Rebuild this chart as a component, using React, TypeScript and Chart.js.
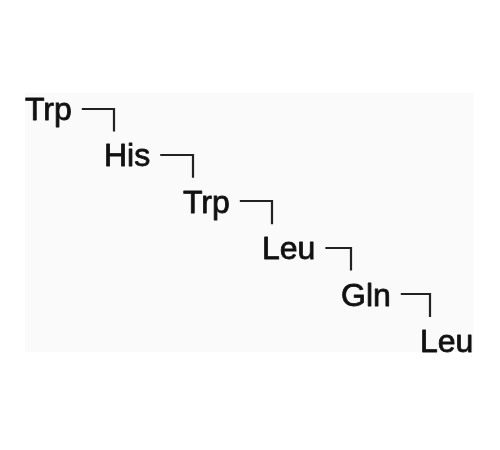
import React, { useEffect, useRef } from "react";
import { Chart, registerables } from "chart.js";

Chart.register(...registerables);

// Peptide sequence, one residue per step of the staircase
const residues: string[] = ["Trp", "His", "Trp", "Leu", "Gln", "Leu"];
const stepIndex: number[] = [0, 1, 2, 3, 4, 5];

const FONT = '32px "Liberation Sans", Arial, sans-serif';
const TEXT_COLOR = "#111111";
const LINE_COLOR = "#222222";
const BG_COLOR = "#fafafa";

const staircasePlugin = {
  id: "staircase",
  beforeDatasetsDraw(chart: any) {
    const meta = chart.getDatasetMeta(0);
    const pts = meta.data;
    if (!pts || !pts.length) return;
    const ctx = chart.ctx;
    ctx.save();
    ctx.font = FONT;
    const first = pts[0];
    const last = pts[pts.length - 1];
    const lastW = ctx.measureText(residues[residues.length - 1]).width;
    ctx.fillStyle = BG_COLOR;
    ctx.fillRect(first.x, first.y - 27, last.x + lastW - first.x, last.y - (first.y - 27));
    ctx.restore();
  },
  afterDatasetsDraw(chart: any) {
    const meta = chart.getDatasetMeta(0);
    const pts = meta.data;
    const ctx = chart.ctx;
    ctx.save();
    ctx.font = FONT;
    ctx.textAlign = "left";
    ctx.textBaseline = "alphabetic";
    ctx.fillStyle = TEXT_COLOR;
    ctx.strokeStyle = TEXT_COLOR;
    ctx.lineWidth = 0.8;
    ctx.lineJoin = "round";
    residues.forEach((r, i) => {
      const p = pts[i];
      ctx.fillText(r, p.x, p.y);
      ctx.strokeText(r, p.x, p.y);
    });
    ctx.strokeStyle = LINE_COLOR;
    ctx.lineWidth = 2.2;
    ctx.lineCap = "butt";
    ctx.lineJoin = "miter";
    for (let i = 0; i < residues.length - 1; i++) {
      const p = pts[i];
      const n = pts[i + 1];
      const w = ctx.measureText(residues[i]).width;
      const hy = Math.round(p.y - 11.5);
      const sx = p.x + w + 10;
      const vx = n.x + 10;
      const ey = n.y - 35;
      ctx.beginPath();
      ctx.moveTo(sx, hy);
      ctx.lineTo(vx, hy);
      ctx.lineTo(vx, ey);
      ctx.stroke();
    }
    ctx.restore();
  },
};

export default function App() {
  const canvasRef = useRef<HTMLCanvasElement | null>(null);

  useEffect(() => {
    const canvas = canvasRef.current;
    if (!canvas) return;
    const chart = new Chart(canvas, {
      type: "scatter",
      data: {
        datasets: [
          {
            label: "sequence",
            data: residues.map((_, i) => ({ x: stepIndex[i], y: stepIndex[i] })),
            pointRadius: 0,
            pointHoverRadius: 0,
            showLine: false,
          },
        ],
      },
      options: {
        responsive: false,
        animation: false,
        devicePixelRatio: 1,
        layout: { padding: 0 },
        plugins: {
          legend: { display: false },
          tooltip: { enabled: false },
          title: { display: false },
        },
        events: [],
        scales: {
          x: {
            type: "linear",
            display: false,
            bounds: "data",
            min: -25 / 79,
            max: -25 / 79 + 500 / 79,
          },
          y: {
            type: "linear",
            display: false,
            reverse: true,
            bounds: "data",
            min: -120 / 46.4,
            max: -120 / 46.4 + 450 / 46.4,
          },
        },
      },
      plugins: [staircasePlugin],
    });
    return () => chart.destroy();
  }, []);

  return (
    <div style={{ position: "absolute", left: 0, top: 0, width: 500, height: 450, background: "#ffffff" }}>
      <canvas ref={canvasRef} width={500} height={450} style={{ display: "block", width: 500, height: 450 }} />
    </div>
  );
}
